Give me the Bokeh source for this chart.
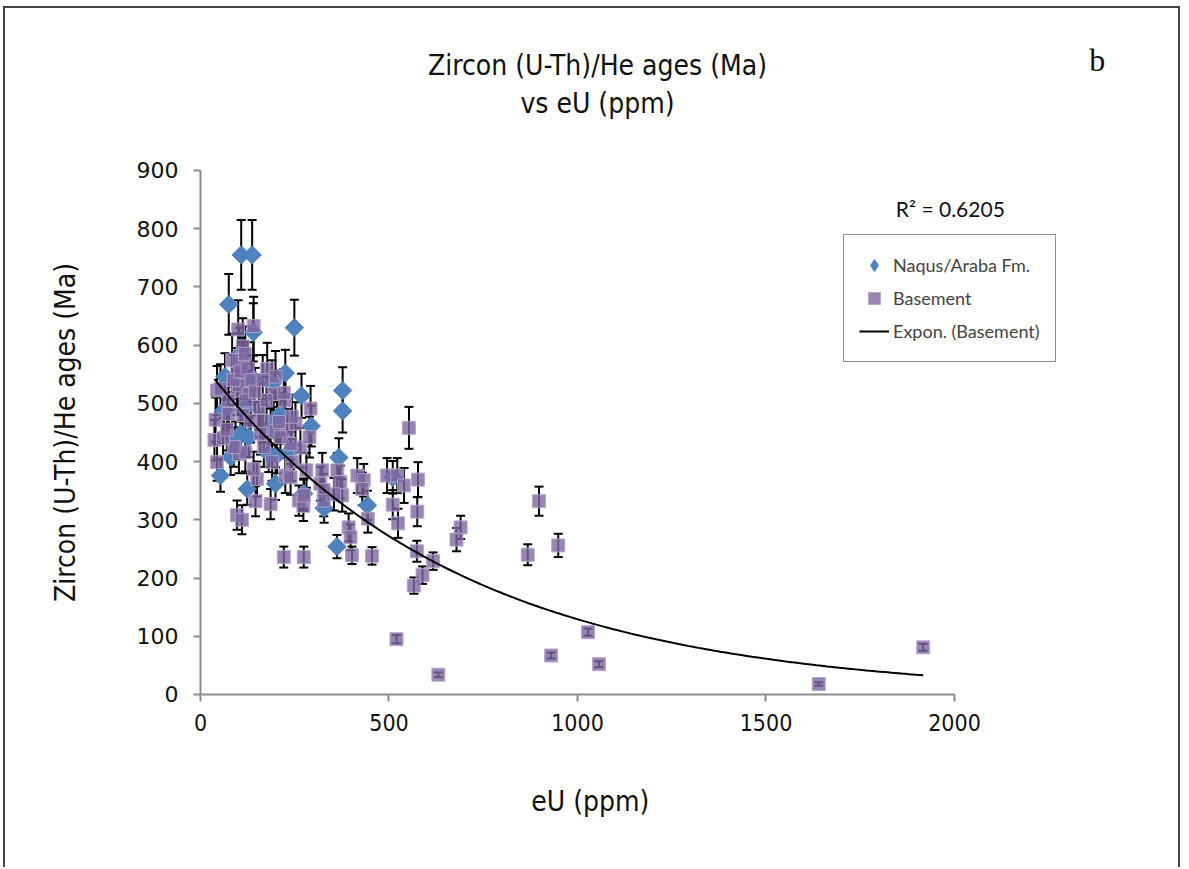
import numpy as np
from bokeh.plotting import figure
from bokeh.models import (Range1d, FixedTicker, ColumnDataSource, Whisker, TeeHead,
                          Label, Legend, LegendItem, LinearAxis)
from bokeh.embed import file_html
from bokeh.resources import INLINE

# ---------------- data ----------------
naqus_eu = [108, 137, 75, 249, 140, 104, 225, 65, 268, 377, 377, 367, 443, 328, 362,
            53, 124, 199, 294, 239, 118, 141, 190, 203, 93, 80, 128, 181, 274, 106,
            62, 119, 186, 212, 203, 510]
naqus_age = [755, 755, 670, 630, 622, 585, 552, 546, 513, 522, 487, 407, 325, 320, 254,
             376, 353, 362, 461, 419, 491, 542, 534, 476, 436, 408, 442, 413, 345, 448,
             488, 528, 456, 482, 411, 373]
naqus_err = [60, 60, 52, 48, 50, 45, 40, 40, 38, 40, 37, 33, 25, 25, 20,
             28, 27, 28, 35, 32, 37, 40, 40, 36, 33, 31, 34, 31, 26, 34,
             37, 40, 35, 36, 31, 28]

base_eu = [553, 495, 522, 540, 577, 510, 575, 524, 690, 679, 898, 868, 949, 574, 617,
           589, 566, 455, 402, 1028, 930, 1057, 1917, 1640, 520, 631,
           363, 371, 376, 416, 433, 429, 444, 393, 398, 354, 318, 327, 327,
           221, 274, 97, 110, 146, 186, 261, 273,
           150, 141, 225, 281, 243, 239, 323, 190, 102, 119, 88, 168, 265, 239,
           159, 199, 230, 212, 208, 252, 155, 97, 194, 225, 292, 44, 40, 37, 44,
           75, 53, 100, 141, 102, 110, 97, 102, 88, 177, 199, 221, 128, 243, 84,
           274, 112, 118, 106, 125, 135, 120, 112, 133, 165, 175, 145, 60, 70, 165,
           289, 74]
base_age = [458, 376, 376, 359, 369, 326, 314, 294, 287, 266, 332, 240, 256, 246, 229,
            205, 187, 238, 239, 107, 67, 52, 81, 18, 95, 34,
            385, 365, 342, 376, 368, 353, 302, 287, 270, 344, 362, 351, 333,
            236, 236, 308, 300, 332, 327, 333, 324,
            370, 387, 376, 385, 399, 373, 385, 399, 413, 416, 425, 425, 424, 430,
            448, 452, 454, 442, 468, 465, 494, 522, 516, 505, 491, 522, 472, 437, 399,
            482, 525, 627, 633, 574, 568, 551, 531, 540, 559, 546, 518, 516, 477, 574,
            342, 598, 585, 555, 560, 540, 505, 480, 470, 470, 505, 520, 440, 455, 540,
            442, 505]
base_err = [36, 30, 30, 30, 30, 25, 25, 25, 20, 20, 25, 18, 20, 18, 15,
            15, 14, 15, 15, 6, 5, 5, 6, 3, 7, 4,
            30, 28, 28, 30, 28, 28, 24, 24, 22, 28, 29, 28, 27,
            18, 18, 25, 25, 26, 26, 26, 26,
            30, 30, 30, 30, 32, 30, 30, 32, 33, 33, 34, 34, 34, 34,
            36, 36, 36, 35, 37, 37, 40, 42, 41, 40, 39, 42, 38, 35, 32,
            38, 42, 50, 50, 46, 45, 44, 42, 43, 45, 44, 41, 41, 38, 46,
            27, 48, 47, 44, 45, 43, 40, 38, 37, 37, 40, 41, 35, 36, 43,
            35, 40]

x_ticks = [0, 500, 1000, 1500, 2000]
y_ticks = [0, 100, 200, 300, 400, 500, 600, 700, 800, 900]
r2_text = "R² = 0.6205"
title_lines = ["Zircon (U-Th)/He ages (Ma)", "vs eU (ppm)"]
x_title = "eU (ppm)"
y_title = "Zircon (U-Th)/He ages (Ma)"
panel_tag = "b"

# ---------------- figure ----------------
# The frame fills the canvas so that titles/legend are not clipped;
# the axes are pinned at x=0 / y=0 and bounded to the data extent.
p = figure(width=1177, height=861, output_backend="svg", toolbar_location=None,
           x_range=Range1d(-517.2, 2604.8), y_range=Range1d(-300.6, 1178.2),
           x_axis_location=None, y_axis_location=None,
           min_border_left=0, min_border_right=0, min_border_top=0,
           min_border_bottom=0)
p.styles = {"margin-left": "3px", "margin-top": "6px",
            "border-left": "2px solid #444", "border-top": "2px solid #444",
            "border-right": "2px solid #444"}
p.outline_line_color = None
p.xgrid.visible = False
p.ygrid.visible = False
p.background_fill_color = "white"
p.border_fill_color = "white"

axis_col = "#8c8c8c"
xaxis = LinearAxis(fixed_location=0, bounds=(0, 2000), ticker=FixedTicker(ticks=x_ticks))
yaxis = LinearAxis(fixed_location=0, bounds=(0, 900), ticker=FixedTicker(ticks=y_ticks))
for ax in (xaxis, yaxis):
    ax.axis_line_color = axis_col
    ax.axis_line_width = 2
    ax.major_tick_line_color = axis_col
    ax.major_tick_line_width = 2
    ax.major_tick_out = 7
    ax.major_tick_in = 0
    ax.minor_tick_line_color = None
    ax.major_label_text_color = "#111"
xaxis.major_label_text_font = "DejaVu Sans Condensed"
xaxis.major_label_text_font_size = "23px"
xaxis.major_label_standoff = 13
yaxis.major_label_text_font = "DejaVu Sans"
yaxis.major_label_text_font_size = "22px"
yaxis.major_label_standoff = 15
p.add_layout(xaxis, "below")
p.add_layout(yaxis, "left")

# error bars (behind markers)
n_src = ColumnDataSource(dict(x=naqus_eu, y=naqus_age,
                              lo=list(np.array(naqus_age) - np.array(naqus_err)),
                              hi=list(np.array(naqus_age) + np.array(naqus_err))))
b_src = ColumnDataSource(dict(x=base_eu, y=base_age,
                              lo=list(np.array(base_age) - np.array(base_err)),
                              hi=list(np.array(base_age) + np.array(base_err))))
for src in (n_src, b_src):
    w = Whisker(source=src, base="x", lower="lo", upper="hi", level="underlay",
                line_color="black", line_width=2,
                upper_head=TeeHead(size=9, line_color="black", line_width=2),
                lower_head=TeeHead(size=9, line_color="black", line_width=2))
    p.add_layout(w)

naqus_fill = "#4F81BD"
# diamond glyph used for the legend entry (sits hidden under the first data marker)
r_n_leg = p.scatter(x=naqus_eu[:1], y=naqus_age[:1], marker="diamond", size=12,
                    fill_color=naqus_fill, line_color=naqus_fill)
r_n = p.scatter("x", "y", source=n_src, marker="square", angle=np.pi / 4, size=13,
                fill_color=naqus_fill, line_color=naqus_fill)
r_b = p.scatter("x", "y", source=b_src, marker="square", size=13,
                fill_color="#7E66A0", fill_alpha=0.8, line_color="#B3A5C8",
                line_width=1, line_alpha=0.9)

# exponential trend line (least squares on ln(age), as Excel does)
bx = np.array(base_eu, dtype=float)
by = np.array(base_age, dtype=float)
b_coef, ln_a = np.polyfit(bx, np.log(by), 1)
tx = np.linspace(bx.min(), bx.max(), 200)
ty = np.exp(ln_a) * np.exp(b_coef * tx)
r_t = p.line(tx, ty, line_color="black", line_width=2)

legend = Legend(items=[LegendItem(label="Naqus/Araba Fm.", renderers=[r_n_leg]),
                       LegendItem(label="Basement", renderers=[r_b]),
                       LegendItem(label="Expon. (Basement)", renderers=[r_t])],
                location=(838, 507), border_line_color="#222", border_line_width=1.5,
                label_text_font="Lato", label_text_font_size="18px",
                padding=15, spacing=3, glyph_width=30, glyph_height=30,
                label_standoff=4, background_fill_alpha=1.0, margin=0)
p.add_layout(legend, "center")

# titles and annotations
title_font = "DejaVu Sans Condensed"
p.add_layout(Label(x=1053, y=1080, text=title_lines[0], text_font=title_font,
                   text_font_size="28px", text_align="center", text_baseline="middle",
                   text_color="#111"))
p.add_layout(Label(x=1053, y=1015, text=title_lines[1], text_font=title_font,
                   text_font_size="28px", text_align="center", text_baseline="middle",
                   text_color="#111"))
p.add_layout(Label(x=-358, y=450, text=y_title, angle=np.pi / 2, text_font=title_font,
                   text_font_size="28px", text_align="center", text_baseline="middle",
                   text_color="#111"))
p.add_layout(Label(x=1034, y=-184, text=x_title, text_font=title_font,
                   text_font_size="28px", text_align="center", text_baseline="middle",
                   text_color="#111"))
p.add_layout(Label(x=2379, y=1089, text=panel_tag, text_font="Liberation Serif",
                   text_font_size="32px", text_align="center", text_baseline="middle",
                   text_color="#111"))
p.add_layout(Label(x=1989, y=835, text=r2_text, text_font="Lato",
                   text_font_size="21px", text_align="center", text_baseline="middle",
                   text_color="#111"))

open("out.html", "w").write(file_html(p, INLINE))
